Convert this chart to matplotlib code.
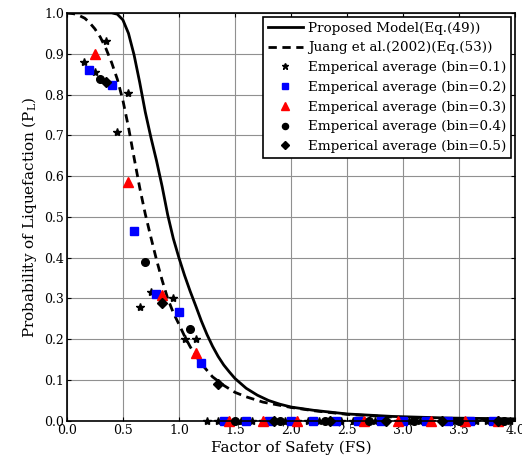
import matplotlib
matplotlib.use("Agg")
import matplotlib.pyplot as plt

plt.rcParams['font.family'] = ['DejaVu Serif']
plt.rcParams['mathtext.fontset'] = 'dejavuserif'

# proposed model curve, Eq.(49)
fs_model = [0.0, 0.40, 0.45, 0.50, 0.55, 0.60, 0.65, 0.70, 0.75, 0.80, 0.85, 0.90,
            0.95, 1.00, 1.05, 1.10, 1.15, 1.20, 1.25, 1.30, 1.35, 1.40, 1.45, 1.50,
            1.60, 1.70, 1.80, 1.90, 2.00, 2.20, 2.50, 2.90, 3.40, 4.00]
pl_model = [1.0, 1.0, 0.997, 0.983, 0.950, 0.897, 0.830, 0.757, 0.695, 0.638, 0.575, 0.505,
            0.447, 0.400, 0.357, 0.318, 0.282, 0.245, 0.212, 0.183, 0.158, 0.137, 0.120, 0.104,
            0.080, 0.063, 0.050, 0.041, 0.034, 0.026, 0.017, 0.011, 0.007, 0.005]

# Juang et al. (2002), Eq.(53)
fs_juang = [0.0, 0.06, 0.10, 0.16, 0.20, 0.25, 0.30, 0.35, 0.40, 0.45, 0.50, 0.55,
            0.60, 0.65, 0.70, 0.75, 0.80, 0.85, 0.90, 0.95, 1.00, 1.05, 1.10, 1.15,
            1.20, 1.30, 1.40, 1.50, 1.60, 1.75, 2.00, 2.20, 2.50, 3.00, 3.50, 4.00]
pl_juang = [1.0, 0.998, 0.995, 0.987, 0.977, 0.961, 0.940, 0.912, 0.878, 0.838, 0.786, 0.720,
            0.645, 0.572, 0.507, 0.450, 0.395, 0.345, 0.300, 0.265, 0.237, 0.208, 0.182, 0.160,
            0.140, 0.108, 0.087, 0.070, 0.059, 0.046, 0.033, 0.025, 0.016, 0.008, 0.005, 0.003]

# empirical averages
fs_b1 = [0.15, 0.25, 0.35, 0.45, 0.55, 0.65, 0.75, 0.95, 1.05, 1.15, 1.25, 1.35, 1.45,
         1.55, 1.65, 1.75, 1.85, 1.95, 2.05, 2.15, 2.25, 2.35, 2.45, 2.55, 2.65, 2.75,
         2.85, 2.95, 3.05, 3.15, 3.25, 3.35, 3.45, 3.55, 3.65, 3.75, 3.85, 3.95]
pl_b1 = [0.879, 0.854, 0.931, 0.707, 0.803, 0.28, 0.315, 0.30, 0.201, 0.201, 0, 0, 0,
         0, 0, 0, 0, 0, 0, 0, 0, 0, 0, 0, 0, 0,
         0, 0, 0, 0, 0, 0, 0, 0, 0, 0, 0, 0]

fs_b2 = [0.2, 0.4, 0.6, 0.8, 1.0, 1.2, 1.4, 1.6, 1.8, 2.0, 2.2, 2.4, 2.6, 2.8, 3.0,
         3.2, 3.4, 3.6, 3.8]
pl_b2 = [0.86, 0.824, 0.466, 0.31, 0.268, 0.143, 0, 0, 0, 0, 0, 0, 0, 0, 0,
         0, 0, 0, 0]

fs_b3 = [0.25, 0.55, 0.85, 1.15, 1.45, 1.75, 2.05, 2.65, 2.95, 3.25, 3.55, 3.85]
pl_b3 = [0.90, 0.585, 0.309, 0.166, 0, 0, 0, 0, 0, 0, 0, 0]

fs_b4 = [0.3, 0.7, 1.1, 1.5, 1.9, 2.3, 2.7, 3.1, 3.5, 3.9]
pl_b4 = [0.837, 0.389, 0.226, 0, 0, 0, 0, 0, 0, 0]

fs_b5 = [0.35, 0.85, 1.35, 1.85, 2.35, 2.85, 3.35, 3.85]
pl_b5 = [0.83, 0.29, 0.091, 0, 0, 0, 0, 0]

fig = plt.figure(figsize=(5.22, 4.61), dpi=100)
ax = fig.add_axes([0.128, 0.087, 0.859, 0.885])

ax.plot(fs_model, pl_model, 'k-', lw=2, label='Proposed Model(Eq.(49))')
ax.plot(fs_juang, pl_juang, 'k--', lw=2, dashes=(3, 2), label='Juang et al.(2002)(Eq.(53))')
ax.plot(fs_b1, pl_b1, 'k*', ms=6, ls='none', clip_on=False, label='Emperical average (bin=0.1)')
ax.plot(fs_b2, pl_b2, 's', color='#0000ff', ms=5.5, ls='none', clip_on=False,
        label='Emperical average (bin=0.2)')
ax.plot(fs_b3, pl_b3, '^', color='#ff0000', ms=7.5, ls='none', clip_on=False,
        label='Emperical average (bin=0.3)')
ax.plot(fs_b4, pl_b4, 'ko', ms=5.5, ls='none', clip_on=False, label='Emperical average (bin=0.4)')
ax.plot(fs_b5, pl_b5, 'kD', ms=5, ls='none', clip_on=False, label='Emperical average (bin=0.5)')

ax.set_xlim(0, 4)
ax.set_ylim(0, 1)
ax.set_xticks([i * 0.5 for i in range(9)])
ax.set_yticks([i * 0.1 for i in range(11)])
ax.set_xticklabels(['%.1f' % (i * 0.5) for i in range(9)])
ax.set_yticklabels(['%.1f' % (i * 0.1) for i in range(11)])
ax.tick_params(direction='in', top=True, right=True, labelsize=9, length=3, pad=2)
ax.grid(True, color='#909090', lw=0.8)
for s in ax.spines.values():
    s.set_linewidth(1.2)

ax.set_xlabel('Factor of Safety (FS)', fontsize=11, labelpad=3)
ax.set_ylabel('Probability of Liquefaction (P$_\\mathregular{L}$)', fontsize=11, labelpad=4)

leg = ax.legend(loc='upper right', fontsize=9.7, frameon=True, fancybox=False,
                edgecolor='k', framealpha=1, handlelength=2.6, handletextpad=0.4,
                labelspacing=0.5, borderpad=0.35, borderaxespad=0.3, markerscale=0.8)
leg.get_frame().set_linewidth(1.2)

fig.savefig('out.png', dpi=100)
